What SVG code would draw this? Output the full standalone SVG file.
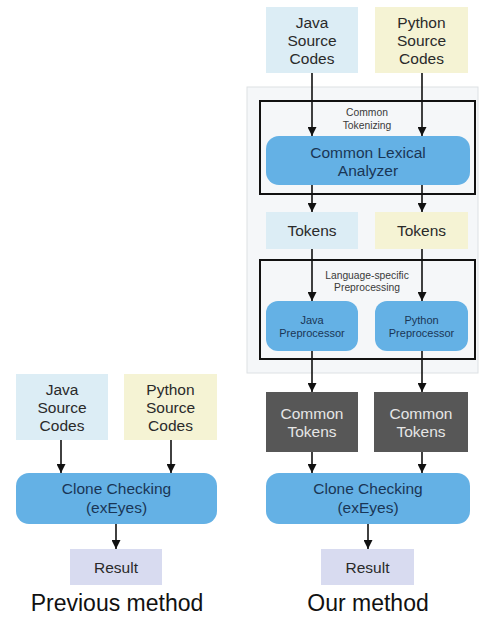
<svg xmlns="http://www.w3.org/2000/svg" width="481" height="619" viewBox="0 0 481 619">
<defs>
<marker id="ah" viewBox="0 0 10 10" refX="10" refY="5" markerWidth="9" markerHeight="9" markerUnits="userSpaceOnUse" orient="auto">
<path d="M0,0 L10,5 L0,10 z" fill="#111"/>
</marker>
</defs>
<style>
text{font-family:"Liberation Sans",Arial,sans-serif;text-anchor:middle}
.java{fill:#dcedf5}
.py{fill:#f5f3d4}
.blue{fill:#64b1e5}
.dark{fill:#575757}
.res{fill:#d8dbf0}
.frame{fill:none;stroke:#111;stroke-width:2}
.t15{font-size:15.5px;fill:#2a2a2a}
.tb{font-size:15.5px;fill:#1a3656}
.tl{font-size:15.5px;fill:#e6e6e6}
.ts{font-size:10.3px;fill:#3a3a3a}
.tp{font-size:11px;fill:#1a3656}
.cap{font-size:23px;fill:#111}
.c line{stroke:#111;stroke-width:1.6;marker-end:url(#ah)}
</style>
<rect x="247" y="87" width="231" height="286" fill="#f5f7f9" stroke="#dde1e4" stroke-width="1"/>
<g id="frame-tokenizing">
<rect class="frame" x="260" y="101" width="215" height="93"/>
<text class="ts" x="367" y="116">Common</text>
<text class="ts" x="367" y="129">Tokenizing</text>
</g>
<g id="frame-preprocessing">
<rect class="frame" x="260" y="260" width="215" height="99"/>
<text class="ts" x="367" y="279">Language-specific</text>
<text class="ts" x="367" y="291">Preprocessing</text>
</g>
<g id="r-java-src"><rect class="java" x="266" y="7" width="92" height="66"/>
<text class="t15" x="312" y="28">Java</text><text class="t15" x="312" y="46">Source</text><text class="t15" x="312" y="64">Codes</text></g>
<g id="r-py-src"><rect class="py" x="375" y="7" width="93" height="66"/>
<text class="t15" x="421.5" y="28">Python</text><text class="t15" x="421.5" y="46">Source</text><text class="t15" x="421.5" y="64">Codes</text></g>
<g id="lexical"><rect class="blue" x="266" y="136" width="204" height="49" rx="13"/>
<text class="tb" x="368" y="158">Common Lexical</text><text class="tb" x="368" y="176">Analyzer</text></g>
<g id="java-tokens"><rect class="java" x="266" y="212" width="92" height="37"/>
<text class="t15" x="312" y="236">Tokens</text></g>
<g id="py-tokens"><rect class="py" x="375" y="212" width="93" height="37"/>
<text class="t15" x="421.5" y="236">Tokens</text></g>
<g id="java-pre"><rect class="blue" x="266" y="301" width="92" height="50" rx="12"/>
<text class="tp" x="312" y="324">Java</text><text class="tp" x="312" y="337">Preprocessor</text></g>
<g id="py-pre"><rect class="blue" x="375" y="301" width="93" height="50" rx="12"/>
<text class="tp" x="421.5" y="324">Python</text><text class="tp" x="421.5" y="337">Preprocessor</text></g>
<g id="ct-java"><rect class="dark" x="266" y="392" width="92" height="60"/>
<text class="tl" x="312" y="419">Common</text><text class="tl" x="312" y="437">Tokens</text></g>
<g id="ct-py"><rect class="dark" x="374" y="392" width="94" height="60"/>
<text class="tl" x="421" y="419">Common</text><text class="tl" x="421" y="437">Tokens</text></g>
<g id="r-clone"><rect class="blue" x="266" y="473" width="204" height="51" rx="13"/>
<text class="tb" x="368" y="494">Clone Checking</text><text class="tb" x="368" y="513">(exEyes)</text></g>
<g id="r-result"><rect class="res" x="321" y="549" width="93" height="36"/>
<text class="t15" x="367.5" y="573">Result</text></g>
<g id="l-java-src"><rect class="java" x="16" y="374" width="92" height="66"/>
<text class="t15" x="62" y="395">Java</text><text class="t15" x="62" y="413">Source</text><text class="t15" x="62" y="431">Codes</text></g>
<g id="l-py-src"><rect class="py" x="124" y="374" width="93" height="66"/>
<text class="t15" x="170.5" y="395">Python</text><text class="t15" x="170.5" y="413">Source</text><text class="t15" x="170.5" y="431">Codes</text></g>
<g id="l-clone"><rect class="blue" x="16" y="473" width="201" height="51" rx="13"/>
<text class="tb" x="116.5" y="494">Clone Checking</text><text class="tb" x="116.5" y="513">(exEyes)</text></g>
<g id="l-result"><rect class="res" x="70" y="549" width="92" height="36"/>
<text class="t15" x="116" y="573">Result</text></g>
<text class="cap" x="117" y="611">Previous method</text>
<text class="cap" x="368" y="611">Our method</text>
<g class="c" id="connectors">
<line x1="312" y1="73" x2="312" y2="136"/>
<line x1="422" y1="73" x2="422" y2="136"/>
<line x1="312" y1="185" x2="312" y2="212"/>
<line x1="422" y1="185" x2="422" y2="212"/>
<line x1="312" y1="249" x2="312" y2="301"/>
<line x1="422" y1="249" x2="422" y2="301"/>
<line x1="312" y1="351" x2="312" y2="392"/>
<line x1="422" y1="351" x2="422" y2="392"/>
<line x1="312" y1="452" x2="312" y2="473"/>
<line x1="422" y1="452" x2="422" y2="473"/>
<line x1="368" y1="524" x2="368" y2="549"/>
<line x1="61" y1="440" x2="61" y2="473"/>
<line x1="171" y1="440" x2="171" y2="473"/>
<line x1="116" y1="524" x2="116" y2="549"/>
</g>
</svg>
